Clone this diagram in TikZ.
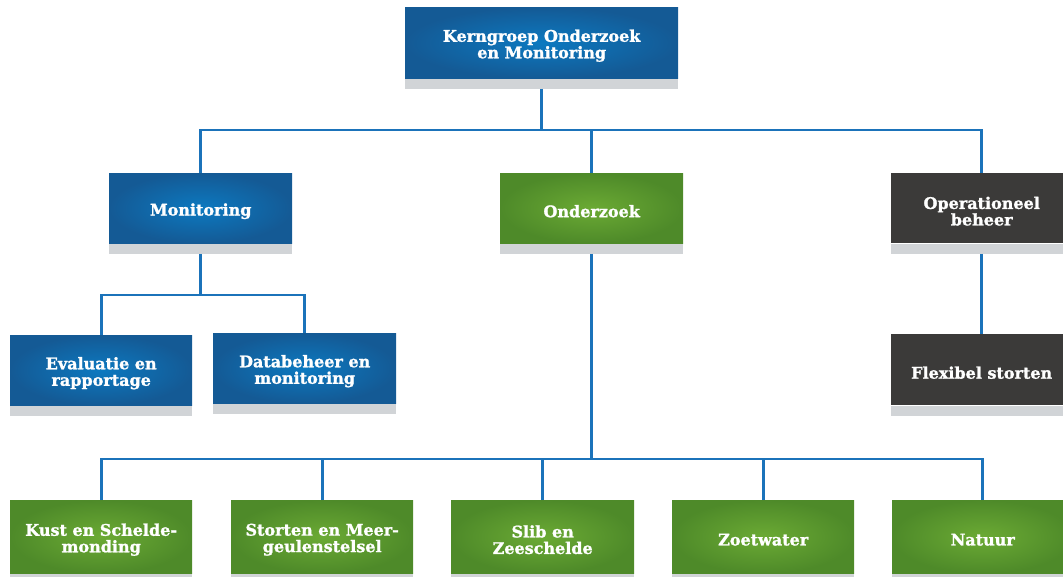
\documentclass[tikz,border=0pt]{standalone}
\usepackage{fontspec}
\setmainfont{DejaVu Serif}[BoldFeatures={FakeBold=1.3}]
\definecolor{bluein}{HTML}{0C79C0}
\definecolor{blueout}{HTML}{145A95}
\definecolor{greenin}{HTML}{6BAA34}
\definecolor{greenout}{HTML}{4E8A29}
\definecolor{darkbox}{HTML}{3B3A39}
\definecolor{strip}{HTML}{D1D4D7}
\definecolor{linec}{HTML}{1B73BA}
\tikzset{
  orgbox/.style={rectangle, anchor=north west, inner sep=0pt},
  boxtext/.style={inner sep=0pt, align=center, text=white,
    font=\fontsize{16}{16.5}\selectfont\bfseries},
  bluebox/.style={orgbox, inner color=bluein, outer color=blueout},
  greenbox/.style={orgbox, inner color=greenin, outer color=greenout},
  greybox/.style={orgbox, fill=darkbox},
  stripbox/.style={rectangle, fill=strip, inner sep=0pt, anchor=north west},
  conn/.style={draw=linec, line width=2.6pt}
}
% #1 name, #2 style, #3 x, #4 y, #5 width, #6 height, #7 text
\newcommand{\obox}[7]{%
  \node[#2, minimum width=#5pt, minimum height=#6pt] (#1) at (#3,#4) {};
  \node[stripbox, minimum width=#5pt, minimum height=10pt] (#1S) at (#1.south west) {};
  \node[boxtext] (#1T) at ([yshift=-3pt]#1.center) {#7};
}
\begin{document}
\begin{tikzpicture}[x=1pt,y=-1pt]
\useasboundingbox (0,0) rectangle (1063,576);
\clip (0,0) rectangle (1063,576);
\obox{top}{bluebox}{405}{7}{273}{71}{Kerngroep Onderzoek\\en Monitoring}
\obox{mon}{bluebox}{109}{173}{183}{70}{Monitoring}
\obox{ond}{greenbox}{500}{173}{183}{70}{Onderzoek}
\obox{ops}{greybox}{891}{173}{181}{70}{Operationeel\\beheer}
\obox{eva}{bluebox}{10}{335}{182}{70}{Evaluatie en\\rapportage}
\obox{dat}{bluebox}{213}{333}{183}{70}{Databeheer en\\monitoring}
\obox{flex}{greybox}{891}{334}{181}{71}{Flexibel storten}
\obox{kust}{greenbox}{10}{500}{182}{73}{Kust en Schelde-\\monding}
\obox{stor}{greenbox}{231}{500}{182}{73}{Storten en Meer-\\geulenstelsel}
\obox{slib}{greenbox}{451}{500}{183}{73}{Slib en\\Zeeschelde}
\obox{zoet}{greenbox}{672}{500}{182}{73}{Zoetwater}
\obox{nat}{greenbox}{892}{500}{181}{73}{Natuur}
% connectors
\coordinate (j1) at (541.5,130);
\coordinate (j2) at (200.5,295);
\coordinate (j3) at (591.5,459);
\draw[conn] (topS.south) -- (topS.south |- j1);
\draw[conn] (mon.north) -- (mon.north |- j1) -- (ops.north |- j1) -- (ops.north);
\draw[conn] (ond.north) -- (ond.north |- j1);
\draw[conn] (monS.south) -- (monS.south |- j2);
\draw[conn] (eva.north) -- (eva.north |- j2) -- (dat.north |- j2) -- (dat.north);
\draw[conn] (opsS.south) -- (flex.north);
\draw[conn] (ondS.south) -- (ondS.south |- j3);
\draw[conn] (kust.north) -- (kust.north |- j3) -- (nat.north |- j3) -- (nat.north);
\draw[conn] (stor.north) -- (stor.north |- j3);
\draw[conn] (slib.north) -- (slib.north |- j3);
\draw[conn] (zoet.north) -- (zoet.north |- j3);
\end{tikzpicture}
\end{document}
